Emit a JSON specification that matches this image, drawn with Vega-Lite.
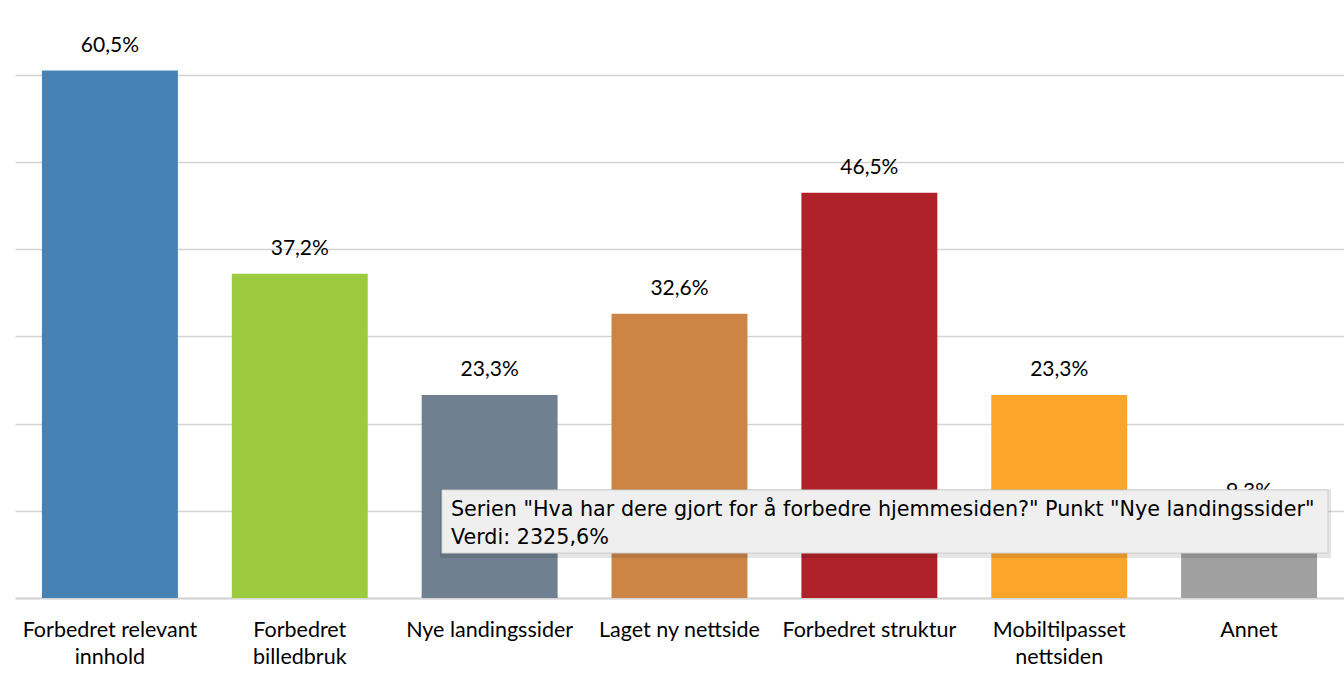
{
  "$schema": "https://vega.github.io/schema/vega-lite/v6.json",
  "autosize": "none",
  "width": 1329,
  "height": 598,
  "padding": {"left": 15, "top": 0, "right": 0, "bottom": 94},
  "background": "white",
  "config": {
    "locale": {"number": {"decimal": ",", "thousands": " ", "grouping": [3], "currency": ["", " kr"]}},
    "view": {"stroke": null},
    "font": "Lato"
  },
  "datasets": {
    "bars": [
      {"kategori": "Forbedret relevant innhold", "andel": 0.605, "farge": "#4682B4"},
      {"kategori": "Forbedret billedbruk", "andel": 0.372, "farge": "#9DCB40"},
      {"kategori": "Nye landingssider", "andel": 0.233, "farge": "#708090"},
      {"kategori": "Laget ny nettside", "andel": 0.326, "farge": "#CC8545"},
      {"kategori": "Forbedret struktur", "andel": 0.465, "farge": "#B02229"},
      {"kategori": "Mobiltilpasset nettsiden", "andel": 0.233, "farge": "#FBA52B"},
      {"kategori": "Annet", "andel": 0.093, "farge": "#A0A0A0"}
    ],
    "tooltip": [
      {"linje": 1, "tekst": "Serien \"Hva har dere gjort for å forbedre hjemmesiden?\" Punkt \"Nye landingssider\""},
      {"linje": 2, "tekst": "Verdi: 2325,6%"}
    ]
  },
  "layer": [
    {
      "data": {"name": "bars"},
      "layer": [
        {
          "mark": {"type": "bar"},
          "encoding": {
            "x": {
              "field": "kategori", "type": "nominal", "sort": null,
              "scale": {"paddingInner": 0.284, "paddingOuter": 0.142},
              "axis": {
                "title": null, "ticks": false, "tickSize": 0, "domainColor": "#d4d4d4", "domainWidth": 2,
                "labelAngle": 0, "labelFont": "Lato", "labelFontSize": 21.5, "labelColor": "#000000",
                "labelPadding": 38, "labelBaseline": "alphabetic", "labelLineHeight": 27, "labelLimit": 400,
                "labelExpr": "datum.label == 'Forbedret relevant innhold' ? ['Forbedret relevant', 'innhold'] : datum.label == 'Forbedret billedbruk' ? ['Forbedret', 'billedbruk'] : datum.label == 'Mobiltilpasset nettsiden' ? ['Mobiltilpasset', 'nettsiden'] : datum.label"
              }
            },
            "y": {
              "field": "andel", "type": "quantitative",
              "scale": {"domain": [0, 0.686], "nice": false},
              "axis": {
                "title": null, "labels": false, "ticks": false, "domain": false,
                "values": [0, 0.1, 0.2, 0.3, 0.4, 0.5, 0.6],
                "gridColor": "#d4d4d4", "gridWidth": 1.5
              }
            },
            "color": {"field": "farge", "type": "nominal", "scale": null, "legend": null}
          }
        },
        {
          "mark": {"type": "text", "baseline": "alphabetic", "dy": -19, "font": "Lato", "fontSize": 21, "color": "#000000"},
          "encoding": {
            "x": {"field": "kategori", "type": "nominal", "sort": null},
            "y": {"field": "andel", "type": "quantitative"},
            "text": {"field": "andel", "type": "quantitative", "format": ".1%"}
          }
        }
      ]
    },
    {
      "data": {"name": "tooltip"},
      "layer": [
        {
          "transform": [{"filter": "datum.linje == 1"}],
          "mark": {"type": "rect", "fill": "#000000", "opacity": 0.1},
          "encoding": {
            "x": {"datum": 2.238, "type": "quantitative", "scale": {"domain": [0, 7], "nice": false, "zero": false}, "axis": null},
            "x2": {"datum": 6.932},
            "y": {"datum": 0.125, "type": "quantitative", "scale": {"domain": [0, 0.686], "nice": false, "zero": false}, "axis": null},
            "y2": {"datum": 0.0459}
          }
        },
        {
          "transform": [{"filter": "datum.linje == 1"}],
          "mark": {"type": "rect", "fill": "#efefef", "stroke": "#cfcfcf", "strokeWidth": 1},
          "encoding": {
            "x": {"datum": 2.249, "type": "quantitative"},
            "x2": {"datum": 6.916},
            "y": {"datum": 0.1239, "type": "quantitative"},
            "y2": {"datum": 0.0516}
          }
        },
        {
          "transform": [{"filter": "datum.linje == 1"}],
          "mark": {"type": "text", "align": "left", "baseline": "alphabetic", "font": "DejaVu Sans", "fontSize": 20.7, "color": "#000000"},
          "encoding": {
            "x": {"datum": 2.296, "type": "quantitative"},
            "y": {"datum": 0.0941, "type": "quantitative"},
            "text": {"field": "tekst"}
          }
        },
        {
          "transform": [{"filter": "datum.linje == 2"}],
          "mark": {"type": "text", "align": "left", "baseline": "alphabetic", "font": "DejaVu Sans", "fontSize": 20.7, "color": "#000000"},
          "encoding": {
            "x": {"datum": 2.296, "type": "quantitative"},
            "y": {"datum": 0.0619, "type": "quantitative"},
            "text": {"field": "tekst"}
          }
        }
      ]
    }
  ],
  "resolve": {"scale": {"x": "independent"}, "axis": {"x": "independent", "y": "independent"}}
}
